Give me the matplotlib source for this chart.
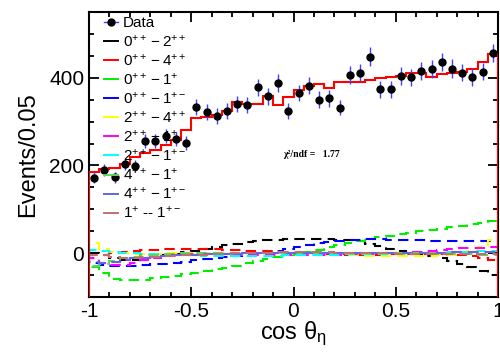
import numpy as np
import matplotlib
matplotlib.use("Agg")
import matplotlib.pyplot as plt
from matplotlib.ticker import MultipleLocator
from matplotlib.lines import Line2D

plt.rcParams['font.family'] = ['Liberation Sans', 'DejaVu Sans']
plt.rcParams['mathtext.fontset'] = 'custom'
plt.rcParams['mathtext.rm'] = 'Liberation Sans'
plt.rcParams['mathtext.it'] = 'Liberation Sans'
plt.rcParams['mathtext.bf'] = 'Liberation Sans:bold'

# 40 bins of 0.05 in cos(theta_eta)
edges = np.linspace(-1, 1, 41)
centers = 0.5 * (edges[:-1] + edges[1:])

data = [172, 190, 173, 203, 199, 256, 256, 267, 260, 252,
        333, 322, 313, 325, 341, 338, 378, 358, 388, 325,
        365, 382, 350, 353, 332, 406, 412, 448, 374, 374,
        404, 401, 416, 420, 436, 421, 412, 402, 414, 456]
data_err = [13, 14, 13, 14, 14, 16, 16, 16, 16, 16,
            18, 18, 18, 18, 18, 18, 19, 19, 20, 18,
            19, 20, 19, 19, 18, 20, 20, 21, 19, 19,
            20, 20, 20, 20, 21, 21, 20, 20, 20, 21]

fit_total = [186, 191, 194, 203, 220, 228, 236, 246, 258, 280,
             308, 310, 314, 325, 344, 341, 341, 359, 337, 356,
             371, 382, 386, 377, 391, 391, 391, 395, 399, 402,
             405, 412, 412, 402, 408, 410, 414, 420, 435, 454]

# interference components
c_0pp_2pp = [0, -5, -12, -15, -15, -12, -8, -5, -2, 2,
             6, 10, 14, 18, 22, 25, 28, 30, 31, 32,
             32, 33, 33, 32, 31, 30, 28, 22, 16, 10,
             5, 1, -2, -6, -12, -18, -25, -32, -40, -50]
c_0pp_4pp = [-5, -3, 0, 3, 5, 7, 8, 9, 9, 9,
             9, 9, 9, 8, 7, 6, 5, 4, 3, 2,
             1, 0, -1, -2, -2, -3, -3, -3, -3, -2,
             -2, -2, -2, -2, -2, -3, -4, -6, -10, -15]
c_0pp_1p = [-32, -45, -58, -62, -62, -60, -57, -54, -51, -48,
            -45, -41, -37, -33, -28, -23, -18, -14, -9, -5,
            -1, 3, 8, 14, 19, 24, 29, 33, 36, 40,
            44, 47, 50, 53, 56, 60, 63, 67, 70, 74]
c_0pp_1pm = [-22, -27, -29, -29, -28, -27, -25, -24, -22, -19,
             -16, -14, -11, -9, -6, -4, -2, 1, 4, 9,
             14, 19, 23, 26, 28, 30, 31, 32, 32, 31,
             31, 30, 30, 29, 29, 29, 28, 28, 28, 28]
c_2pp_4pp = [24, 10, 3, 0, -1, -1, -1, 0, 0, 0,
             1, 0, 0, -1, -1, -2, -2, -2, -2, -2,
             -3, -3, -3, -4, -4, -5, -5, -6, -6, -6,
             -7, -7, -7, -6, -5, -3, 0, 5, 15, 30]
c_2pp_1p = [-10, -22, -27, -27, -22, -16, -10, -6, -4, -2,
            -1, -1, -1, -2, -2, -3, -3, -4, -4, -4,
            -4, -4, -3, -3, -3, -2, -2, -1, -1, 0,
            1, 2, 3, 5, 7, 9, 11, 12, 13, 14]
c_2pp_1pm = [8, 5, 2, 1, 0, -1, -2, -3, -4, -5,
             -5, -6, -6, -6, -6, -6, -6, -6, -6, -5,
             -5, -4, -4, -3, -3, -2, -2, -2, -1, -1,
             -1, 0, 0, 1, 1, 2, 2, 3, 4, 5]
c_4pp_1p = [-30, -25, -18, -12, -8, -5, -3, -2, -1, 0,
            0, 0, 0, 0, 0, 0, 0, 0, 0, 0,
            0, 0, 0, 0, 0, 0, 0, 0, 0, 0,
            0, 0, 0, 0, -1, -1, -2, -2, -3, -3]
c_4pp_1pm = [-20, -22, -20, -15, -12, -10, -8, -6, -5, -4,
             -3, -2, -2, -1, -1, 0, 0, 0, 0, 0,
             0, 0, 0, 0, 0, 0, 0, 0, 0, 0,
             0, 1, 1, 1, 1, 2, 2, 2, 3, 3]
c_1p_1pm = [-3, -5, -8, -10, -10, -9, -8, -7, -6, -5,
            -4, -3, -2, -1, 0, 0, 1, 1, 2, 2,
            2, 2, 2, 2, 1, 1, 1, 0, 0, 0,
            -1, -1, -1, -1, -1, -1, -1, -1, -1, -1]

components = [c_0pp_2pp, c_0pp_4pp, c_0pp_1p, c_0pp_1pm, c_2pp_4pp,
              c_2pp_1p, c_2pp_1pm, c_4pp_1p, c_4pp_1pm, c_1p_1pm]
comp_labels = [r'$0^{++} - 2^{++}$', r'$0^{++} - 4^{++}$', r'$0^{++} - 1^{+}$',
               r'$0^{++} - 1^{+-}$', r'$2^{++} - 4^{++}$', r'$2^{++} - 1^{+}$',
               r'$2^{++} - 1^{+-}$', r'$4^{++} - 1^{+}$', r'$4^{++} - 1^{+-}$',
               r'$1^{+}$ -- $1^{+-}$']
comp_colors = ['black', 'red', '#00ee00', 'blue', '#ffff00', '#ff00ff',
               '#00ffff', '#5fd35f', '#6464e6', '#c07070']

fig = plt.figure(figsize=(5.0, 3.52), dpi=100)
ax = fig.add_axes([0.178, 0.156, 0.818, 0.81])

ymin, ymax = -100, 550

# components, drawn underneath
for vals, col in zip(components, comp_colors):
    ax.stairs(vals, edges, color=col, lw=1.5, ls=(0, (5, 3)), zorder=2)

# total fit, dropping to the frame at both ends like the ROOT histogram
ax.stairs(fit_total, edges, baseline=ymin, color='red', lw=1.5, zorder=3)

ax.errorbar(centers, data, yerr=data_err, fmt='o', color='black', ms=5,
            ecolor='#4040ff', elinewidth=1.0, capsize=0, zorder=4)

ax.text(0.09, 226, u'\u03c7\u00b2/ndf =   1.77', fontsize=7,
        family='Liberation Serif', fontweight='bold', ha='center', va='center')

ax.set_xlim(-1, 1)
ax.set_ylim(ymin, ymax)
ax.xaxis.set_major_locator(MultipleLocator(0.5))
ax.xaxis.set_minor_locator(MultipleLocator(0.1))
ax.yaxis.set_major_locator(MultipleLocator(200))
ax.yaxis.set_minor_locator(MultipleLocator(50))
ax.tick_params(which='both', direction='in', top=True, right=True, width=1.3)
ax.tick_params(which='major', length=7, labelsize=15)
ax.tick_params(which='minor', length=3.5)
ax.set_xticks([-1, -0.5, 0, 0.5, 1])
ax.set_xticklabels(['-1', '-0.5', '0', '0.5', '1'])
ax.set_yticks([0, 200, 400])
for sp in ax.spines.values():
    sp.set_linewidth(1.5)

ax.set_xlabel(r'cos $\theta_{\eta}$', fontsize=17, labelpad=-1)
ax.set_ylabel('Events/0.05', fontsize=17, labelpad=7)

handles = [Line2D([], [], color='#4040ff', marker='o', ms=5, lw=1.0,
                  markerfacecolor='black', markeredgecolor='black')]
labels = ['Data']
for col, lab in zip(comp_colors, comp_labels):
    handles.append(Line2D([], [], color=col, lw=1.4))
    labels.append(lab)
ax.legend(handles, labels, loc='upper left', bbox_to_anchor=(0.03, 0.995),
          frameon=False, fontsize=11, handlelength=0.9, handletextpad=0.3,
          labelspacing=0.2, borderaxespad=0, borderpad=0.2)

fig.savefig('out.png', dpi=100)
